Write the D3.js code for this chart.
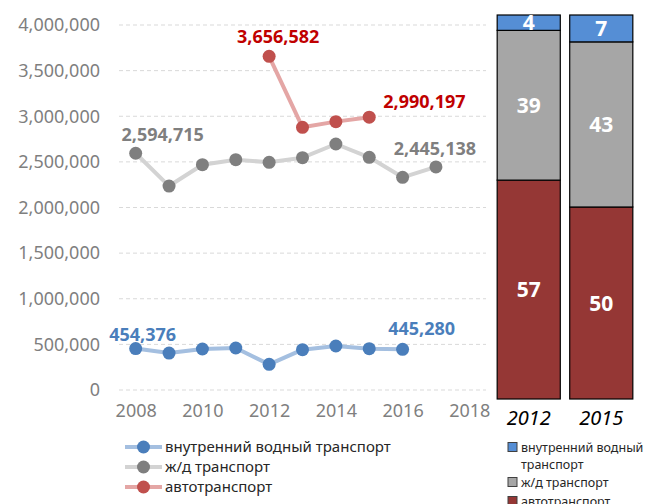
<!DOCTYPE html>
<html>
<head>
<meta charset="utf-8">
<script src="https://cdn.jsdelivr.net/npm/d3@7"></script>
<style>
  body { margin: 0; background: #fff; }
  svg { font-family: "Noto Sans", sans-serif; }
</style>
</head>
<body>
<svg id="chart" width="645" height="504"></svg>
<script>
// line chart data (tons)
var years = [2008, 2009, 2010, 2011, 2012, 2013, 2014, 2015, 2016, 2017];
var waterValues = [454376, 405000, 449000, 460000, 281000, 442000, 482000, 453000, 445280, null];
var railValues = [2594715, 2235000, 2469000, 2524000, 2495000, 2546000, 2696000, 2550000, 2331000, 2445138];
var roadValues = [null, null, null, null, 3656582, 2879000, 2941000, 2990197, null, null];
var yTicks = [0, 500000, 1000000, 1500000, 2000000, 2500000, 3000000, 3500000, 4000000];
var xTicks = [2008, 2010, 2012, 2014, 2016, 2018];
var seriesNames = ["внутренний водный транспорт", "ж/д транспорт", "автотранспорт"];

// share bars data (%)
var shareYears = ["2012", "2015"];
var shareWater = [4, 7];
var shareRail = [39, 43];
var shareRoad = [57, 50];
var shareNames = ["внутренний водный транспорт", "ж/д транспорт", "автотранспорт"];

var svg = d3.select("#chart");

var x = d3.scaleLinear().domain([2007.5, 2018.5]).range([119, 486]);
var y = d3.scaleLinear().domain([0, 4000000]).range([390, 25]);
var fmt = d3.format(",");

// gridlines
svg.append("g").selectAll("line")
  .data(yTicks)
  .join("line")
  .attr("x1", x.range()[0])
  .attr("x2", x.range()[1])
  .attr("y1", d => y(d))
  .attr("y2", d => y(d))
  .attr("stroke", "#d9d9d9")
  .attr("stroke-width", 1)
  .attr("stroke-dasharray", "4,3");

// y axis
var yAxis = svg.append("g")
  .attr("transform", "translate(100,0)")
  .call(d3.axisLeft(y).tickValues(yTicks).tickFormat(fmt).tickSize(0).tickPadding(0));
yAxis.select(".domain").remove();
yAxis.selectAll("text")
  .attr("font-size", 18)
  .attr("fill", "#7f7f7f")
  .attr("font-family", "Noto Sans");

// x axis
var xAxis = svg.append("g")
  .attr("transform", "translate(0,404)")
  .call(d3.axisBottom(x).tickValues(xTicks).tickFormat(d3.format("d")).tickSize(0).tickPadding(0));
xAxis.select(".domain").remove();
xAxis.selectAll("text")
  .attr("font-size", 18)
  .attr("fill", "#7f7f7f")
  .attr("font-family", "Noto Sans");

var series = [
  { name: seriesNames[0], values: waterValues, line: "#a4bfe0", dot: "#4a7ebb", label: "#4a7ebb" },
  { name: seriesNames[1], values: railValues, line: "#d3d3d3", dot: "#7f7f7f", label: "#7f7f7f" },
  { name: seriesNames[2], values: roadValues, line: "#e4a6a5", dot: "#c0504d", label: "#c00000" }
];

// label nudges for first / last points, per series
var labelNudge = [
  { first: [7, -8, "middle"], last: [19, -14, "middle"] },
  { first: [27, -12, "middle"], last: [-1, -12, "middle"] },
  { first: [9, -13, "middle"], last: [14, -9, "start"] }
];

var line = d3.line()
  .defined(d => d.v != null)
  .x(d => x(d.year))
  .y(d => y(d.v));

series.forEach((s, i) => {
  var pts = years.map((yr, j) => ({ year: yr, v: s.values[j] }));
  var valid = pts.filter(d => d.v != null);
  var g = svg.append("g");

  g.append("path")
    .datum(pts)
    .attr("d", line)
    .attr("fill", "none")
    .attr("stroke", s.line)
    .attr("stroke-width", 4)
    .attr("stroke-linejoin", "round");

  g.selectAll("circle")
    .data(valid)
    .join("circle")
    .attr("cx", d => x(d.year))
    .attr("cy", d => y(d.v))
    .attr("r", 6.5)
    .attr("fill", s.dot);

  var ends = [
    { d: valid[0], n: labelNudge[i].first },
    { d: valid[valid.length - 1], n: labelNudge[i].last }
  ];
  g.selectAll("text")
    .data(ends)
    .join("text")
    .attr("x", e => x(e.d.year) + e.n[0])
    .attr("y", e => y(e.d.v) + e.n[1])
    .attr("text-anchor", e => e.n[2])
    .attr("font-size", 18)
    .attr("font-weight", "bold")
    .attr("fill", s.label)
    .text(e => fmt(e.d.v));
});

// line legend
var legend = svg.append("g");
series.forEach((s, i) => {
  var ly = 447 + i * 20;
  legend.append("line")
    .attr("x1", 125).attr("x2", 162)
    .attr("y1", ly).attr("y2", ly)
    .attr("stroke", s.line)
    .attr("stroke-width", 4);
  legend.append("circle")
    .attr("cx", 143.5).attr("cy", ly).attr("r", 6.5)
    .attr("fill", s.dot);
  legend.append("text")
    .attr("x", 165).attr("y", ly + 5)
    .attr("font-size", 15)
    .attr("fill", "#262626")
    .text(s.name);
});

// stacked share bars
var bx = d3.scaleBand().domain(shareYears).range([495, 635]).paddingInner(0.13).paddingOuter(0.03);
var by = d3.scaleLinear().domain([0, 100]).range([399, 15]);
var shareColors = ["#558ed5", "#a6a6a6", "#953735"];

var stackRows = shareYears.map((yr, i) => ({
  year: yr, water: shareWater[i], rail: shareRail[i], road: shareRoad[i]
}));
var stack = d3.stack().keys(["road", "rail", "water"])(stackRows);
var keyColor = { road: shareColors[2], rail: shareColors[1], water: shareColors[0] };

var bars = svg.append("g");
stack.forEach(layer => {
  bars.append("g").selectAll("rect")
    .data(layer)
    .join("rect")
    .attr("x", d => bx(d.data.year))
    .attr("width", bx.bandwidth())
    .attr("y", d => by(d[1]))
    .attr("height", d => by(d[0]) - by(d[1]))
    .attr("fill", keyColor[layer.key])
    .attr("stroke", "#000")
    .attr("stroke-width", 1.2);

  bars.append("g").selectAll("text")
    .data(layer)
    .join("text")
    .attr("x", d => bx(d.data.year) + bx.bandwidth() / 2)
    .attr("y", d => (by(d[0]) + by(d[1])) / 2 + 7.5)
    .attr("text-anchor", "middle")
    .attr("font-size", 21)
    .attr("font-weight", "bold")
    .attr("fill", "#fff")
    .text(d => d[1] - d[0]);
});

// bar categories
svg.append("g").selectAll("text")
  .data(shareYears)
  .join("text")
  .attr("x", d => bx(d) + bx.bandwidth() / 2)
  .attr("y", 425)
  .attr("text-anchor", "middle")
  .attr("font-size", 20)
  .attr("font-style", "italic")
  .attr("fill", "#000")
  .text(d => d);

// bar legend
var shareLegend = [
  { lines: ["внутренний водный", "транспорт"], color: shareColors[0], y: 447 },
  { lines: [shareNames[1]], color: shareColors[1], y: 482 },
  { lines: [shareNames[2]], color: shareColors[2], y: 501 }
];
shareLegend.forEach(item => {
  svg.append("rect")
    .attr("x", 508).attr("y", item.y - 4.5)
    .attr("width", 9).attr("height", 9)
    .attr("fill", item.color)
    .attr("stroke", "#404040")
    .attr("stroke-width", 1);
  item.lines.forEach((t, k) => {
    svg.append("text")
      .attr("x", 521).attr("y", item.y + 4.5 + k * 17.5)
      .attr("font-size", 12.5)
      .attr("fill", "#262626")
      .text(t);
  });
});
</script>
</body>
</html>
